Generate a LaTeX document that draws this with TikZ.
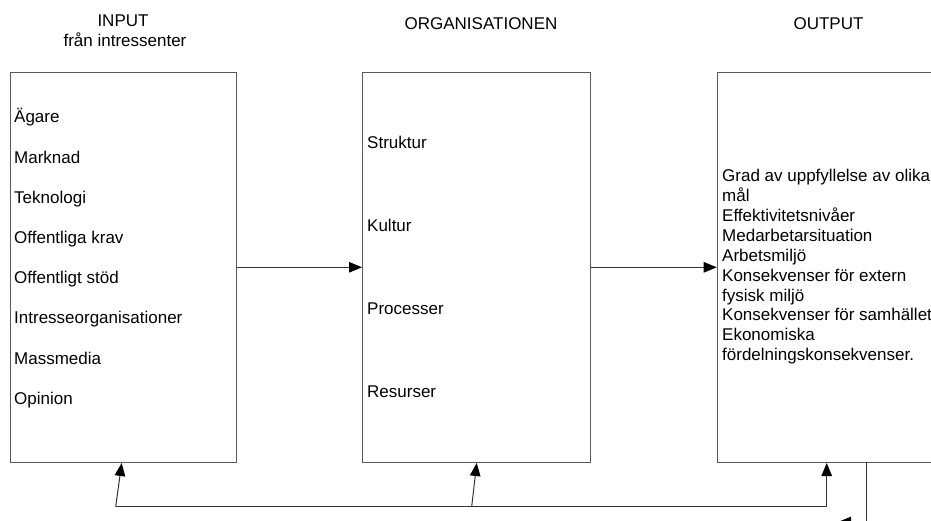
\documentclass[tikz,border=0pt]{standalone}
\usepackage{fontspec}
\setmainfont{Liberation Sans}
\usetikzlibrary{arrows.meta}

\newcommand\lbl{\fontsize{17bp}{19.9bp}\selectfont}

\tikzset{
  frame/.style={draw=black!65, line width=1bp, fill=white, inner sep=0pt, anchor=north west},
  item/.style={font=\lbl, inner sep=0pt, anchor=base west},
  head/.style={font=\lbl, inner sep=0pt, anchor=base},
  flow/.style={draw=black!80, line width=1bp, -{Triangle[length=13bp,width=10.5bp,color=black]}},
  link/.style={draw=black!80, line width=1bp},
}

\begin{document}
\begin{tikzpicture}[x=1bp, y=-1bp]
  \useasboundingbox (0,0) rectangle (931,521);
  \clip (0,0) rectangle (931,521);

  % column headings
  \node[head] (hin)  at (123,27)   {INPUT};
  \node[head] (hin2) at (125,46.7) {från intressenter};
  \node[head] (horg) at (481,29.5) {ORGANISATIONEN};
  \node[head] (hout) at (828.5,29.5) {OUTPUT};

  % the three boxes
  \node[frame, minimum width=226bp, minimum height=390.3bp] (input)  at (10,71.7)    {};
  \node[frame, minimum width=228bp, minimum height=390.3bp] (org)    at (362,71.7)   {};
  \node[frame, minimum width=240bp, minimum height=390.3bp] (output) at (716.7,71.7) {};

  % input items
  \node[item] (i1) at (14,123)   {Ägare};
  \node[item] (i2) at (14,163.2) {Marknad};
  \node[item] (i3) at (14,203.4) {Teknologi};
  \node[item] (i4) at (14,243.6) {Offentliga krav};
  \node[item] (i5) at (14,283.8) {Offentligt stöd};
  \node[item] (i6) at (14,324)   {Intresseorganisationer};
  \node[item] (i7) at (14,364.2) {Massmedia};
  \node[item] (i8) at (14,404.4) {Opinion};

  % organisation items
  \node[item] (o1) at (367,149)   {Struktur};
  \node[item] (o2) at (367,231.7) {Kultur};
  \node[item] (o3) at (367,314.4) {Processer};
  \node[item] (o4) at (367,397.1) {Resurser};

  % output list (anchored on the baseline of its last line)
  \node[item, align=left] (res) at (722,360.8) {Grad av uppfyllelse av olika\\mål\\Effektivitetsnivåer\\Medarbetarsituation\\Arbetsmiljö\\Konsekvenser för extern\\fysisk miljö\\Konsekvenser för samhället\\Ekonomiska\\fördelningskonsekvenser.};

  % main flow
  \draw[flow] (input.east |- 0,267.3) -- (org.west |- 0,267.3);
  \draw[flow] (org.east |- 0,267.3) -- (output.west |- 0,267.3);

  % feedback loop
  \coordinate (fbL) at (115.7,506.7);
  \coordinate (fbM) at (471.7,506.7);
  \coordinate (fbR) at (826.7,506.7);
  \coordinate (exitTop) at (866.7,462);
  \coordinate (exitBot) at (866.7,522);
  \coordinate (exitEnd) at (838,522);
  \draw[link] (fbL) -- (fbR);
  \draw[flow] (fbL) -- (input.south -| 121.7,0);
  \draw[flow] (fbM) -- (org.south -| 476.7,0);
  \draw[flow] (fbR) -- (output.south -| 826.7,0);
  \draw[flow] (exitTop) -- (exitBot) -- (exitEnd);
\end{tikzpicture}
\end{document}
